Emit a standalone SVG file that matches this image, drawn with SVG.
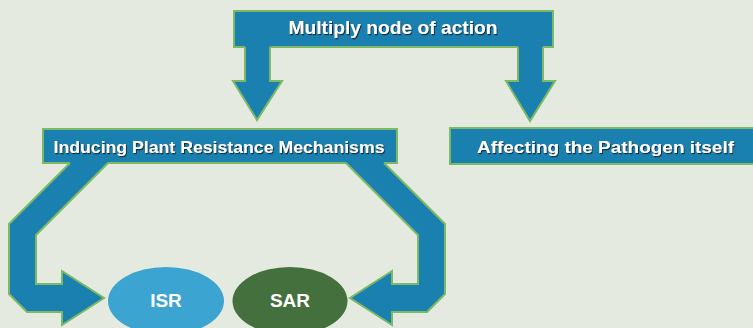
<svg xmlns="http://www.w3.org/2000/svg" width="753" height="328" viewBox="0 0 753 328">
<defs>
<filter id="sh" x="-5%" y="-30%" width="110%" height="160%">
<feDropShadow dx="1" dy="1.2" stdDeviation="0.4" flood-color="#15222a" flood-opacity="0.9"/>
</filter>
</defs>
<style>
.box{fill:#1a80b0;stroke:#7cb866;stroke-width:2}
.cf{fill:#1a80b0;stroke:none}
.ce{fill:none;stroke:#7cb866;stroke-width:2;stroke-linejoin:miter}
.lbl{font-family:"Liberation Sans",Arial,sans-serif;font-weight:bold;fill:#ffffff;text-anchor:middle}
.sh{filter:url(#sh)}
</style>
<rect x="0" y="0" width="753" height="328" fill="#e4eadf"/>
<g id="node-multiply">
<rect class="box" x="234" y="11" width="319" height="36"/>
<text class="lbl sh" x="393" y="34" font-size="18" textLength="209" lengthAdjust="spacingAndGlyphs">Multiply node of action</text>
</g>
<g id="node-inducing">
<rect class="box" x="43" y="129" width="354" height="34"/>
<text class="lbl sh" x="219" y="153" font-size="17" textLength="331" lengthAdjust="spacingAndGlyphs">Inducing Plant Resistance Mechanisms</text>
</g>
<g id="node-affecting">
<rect class="box" x="450" y="128" width="310" height="36"/>
<text class="lbl sh" x="605.5" y="153" font-size="17" textLength="257" lengthAdjust="spacingAndGlyphs">Affecting the Pathogen itself</text>
</g>
<g id="node-isr">
<ellipse cx="166" cy="301" rx="58" ry="34" fill="#3ba4d0"/>
<text class="lbl" x="166" y="307" font-size="19">ISR</text>
</g>
<g id="node-sar">
<ellipse cx="290" cy="301" rx="57.5" ry="34" fill="#43703c"/>
<text class="lbl" x="290" y="307" font-size="19">SAR</text>
</g>
<g id="connectors">
<g id="c-multiply-inducing">
<path class="cf" d="M245,44 H270 V81 H282 L257,120 L233,81 H245 Z"/>
<path class="ce" d="M245,47 V81 H233 L257,120 L282,81 H270 V47"/>
</g>
<g id="c-multiply-affecting">
<path class="cf" d="M518,44 H543 V81 H555 L530,121 L506,81 H518 Z"/>
<path class="ce" d="M518,47 V81 H506 L530,121 L555,81 H543 V47"/>
</g>
<g id="c-inducing-isr">
<path class="cf" d="M70,160 H108 V163 L36,235 V284 H62 V271 L104,298 L62,325 V312 H27 L9,294 V224 L70,163 Z"/>
<path class="ce" d="M70,163 L9,224 V294 L27,312 H62 V325 L104,298 L62,271 V284 H36 V235 L108,163"/>
</g>
<g id="c-inducing-sar">
<path class="cf" d="M384,160 H346 V163 L418,235 V284 H392 V271 L350,298 L392,325 V312 H427 L445,294 V224 L384,163 Z"/>
<path class="ce" d="M384,163 L445,224 V294 L427,312 H392 V325 L350,298 L392,271 V284 H418 V235 L346,163"/>
</g>
</g>
</svg>
